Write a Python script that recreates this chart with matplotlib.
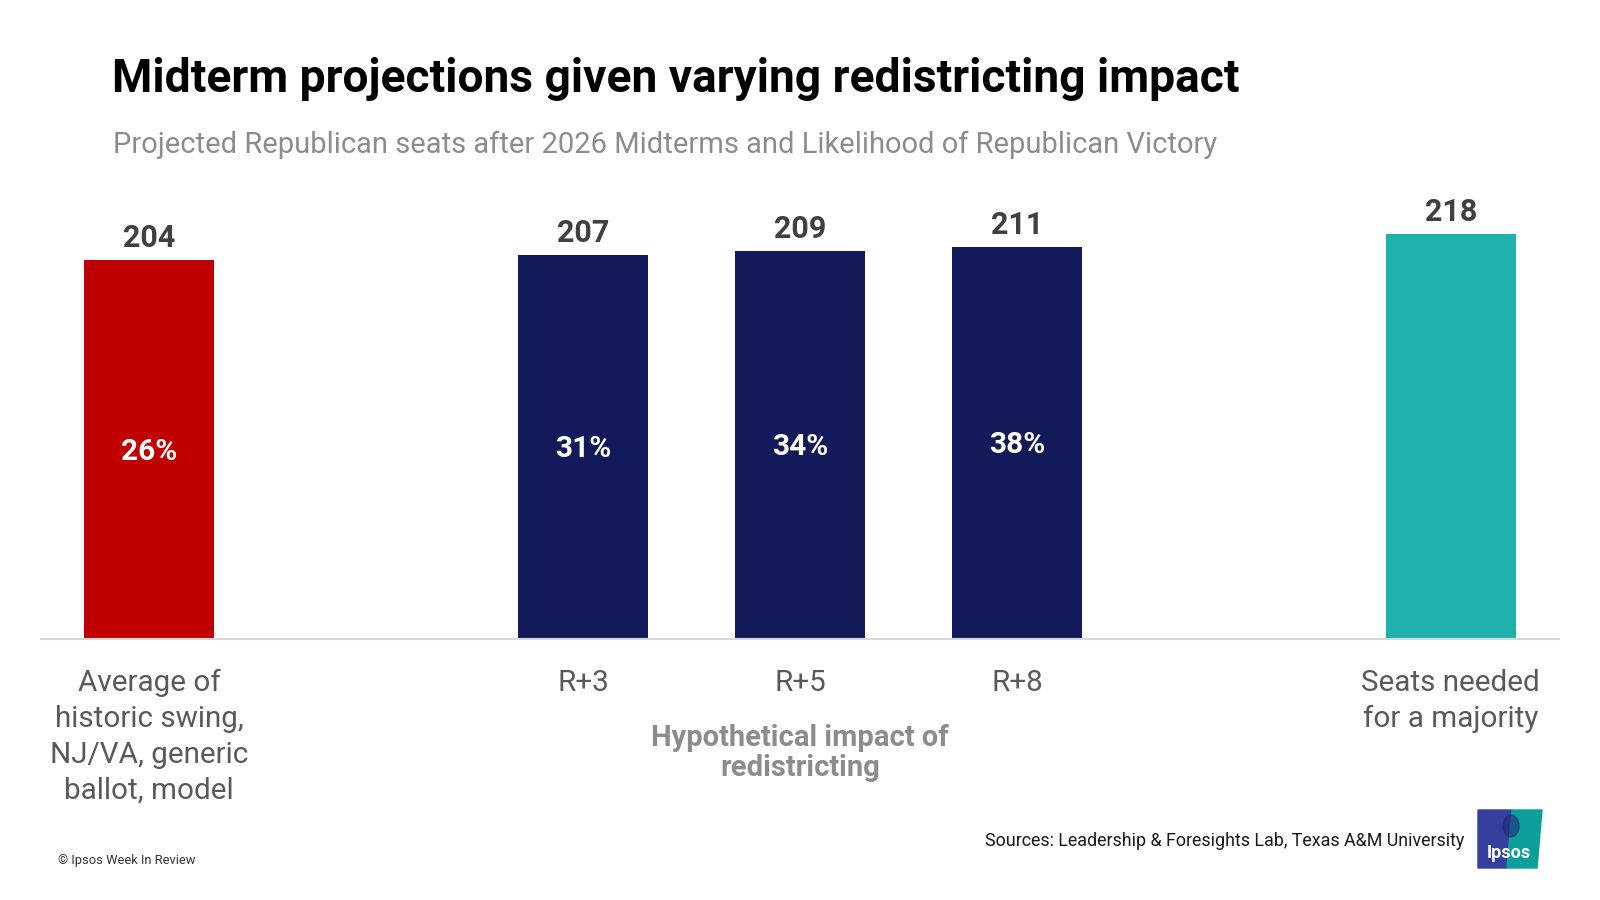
import matplotlib
matplotlib.use('Agg')
import matplotlib.pyplot as plt
from matplotlib.patches import Polygon, Ellipse

plt.rcParams['font.family'] = ['Roboto', 'DejaVu Sans']

# data
categories = ["Average of\nhistoric swing,\nNJ/VA, generic\nballot, model",
              "R+3", "R+5", "R+8",
              "Seats needed\nfor a majority"]
seats = [204, 207, 209, 211, 218]
win_chance = ["26%", "31%", "34%", "38%", None]
bar_colors = ["#C00000", "#121A5A", "#121A5A", "#121A5A", "#1FB1AE"]
positions = [0, 2, 3, 4, 6]

fig = plt.figure(figsize=(16, 9), dpi=100)
ax = fig.add_axes([0.0255, 0.29, 0.949, 0.4949])

bars = ax.bar(positions, seats, width=0.6, color=bar_colors, zorder=2)

for b, v, pct in zip(bars, seats, win_chance):
    cx = b.get_x() + b.get_width() / 2
    ax.annotate(str(v), (cx, v), xytext=(0, 9.5), textcoords='offset points',
                ha='center', va='baseline', fontsize=22, fontweight='bold', color='#404040')
    if pct:
        ax.annotate(pct, (cx, v / 2), xytext=(0, -1.5), textcoords='offset points',
                    ha='center', va='center', fontsize=21.5, fontweight='bold', color='white')

ax.set_xlim(-0.5, 6.5)
ax.set_ylim(0, 240)
ax.set_xticks(positions, categories)
ax.tick_params(axis='x', length=0, pad=21.5, labelsize=21.3, labelcolor='#595959')
for lbl in ax.get_xticklabels():
    lbl.set_linespacing(1.36)
ax.set_yticks([])
for s in ['top', 'right', 'left']:
    ax.spines[s].set_visible(False)
ax.spines['bottom'].set_color('#D9D9D9')
ax.spines['bottom'].set_linewidth(1.5)

# group label under the redistricting bars
ax.text(3, -0.19, "Hypothetical impact of\nredistricting", transform=ax.get_xaxis_transform(),
        ha='center', va='top', fontsize=21, fontweight='bold', color='#8C8C8C', linespacing=1.1)

# titles
fig.text(0.07, 0.898, "Midterm projections given varying redistricting impact",
         fontsize=33.2, fontweight='bold', color='black', va='baseline')
fig.text(0.0705, 0.8298, "Projected Republican seats after 2026 Midterms and Likelihood of Republican Victory",
         fontsize=21, color='#8C8C8C', va='baseline')

# footer
fig.text(0.915, 0.06, "Sources: Leadership & Foresights Lab, Texas A&M University",
         fontsize=12.9, color='#1a1a1a', ha='right', va='baseline')
fig.text(0.036, 0.04, "\u00a9 Ipsos Week In Review", fontsize=9.3, color='#333333', va='baseline')

# ipsos logo (rough)
lx0, lx1, ly0, ly1 = 1478 / 1600, 1542 / 1600, 1 - 868 / 900, 1 - 810 / 900
fig.patches.append(Polygon([(lx0, ly0), (lx0, ly1), (1512 / 1600, ly1), (1507 / 1600, ly0)],
                           closed=True, transform=fig.transFigure, color='#343F9B'))
fig.patches.append(Polygon([(1507 / 1600, ly0), (1512 / 1600, ly1), (lx1, ly1), (1537 / 1600, ly0)],
                           closed=True, transform=fig.transFigure, color='#0C9E9A'))
fig.patches.append(Ellipse((1511 / 1600, 1 - 826 / 900), 16 / 1600, 22 / 900,
                           transform=fig.transFigure, color='#1F2A7A', alpha=0.6))
fig.text(1509 / 1600, 1 - 853 / 900, "Ipsos", fontsize=13, fontweight='bold', color='white',
         ha='center', va='center')

fig.savefig("out.png", dpi=100)
